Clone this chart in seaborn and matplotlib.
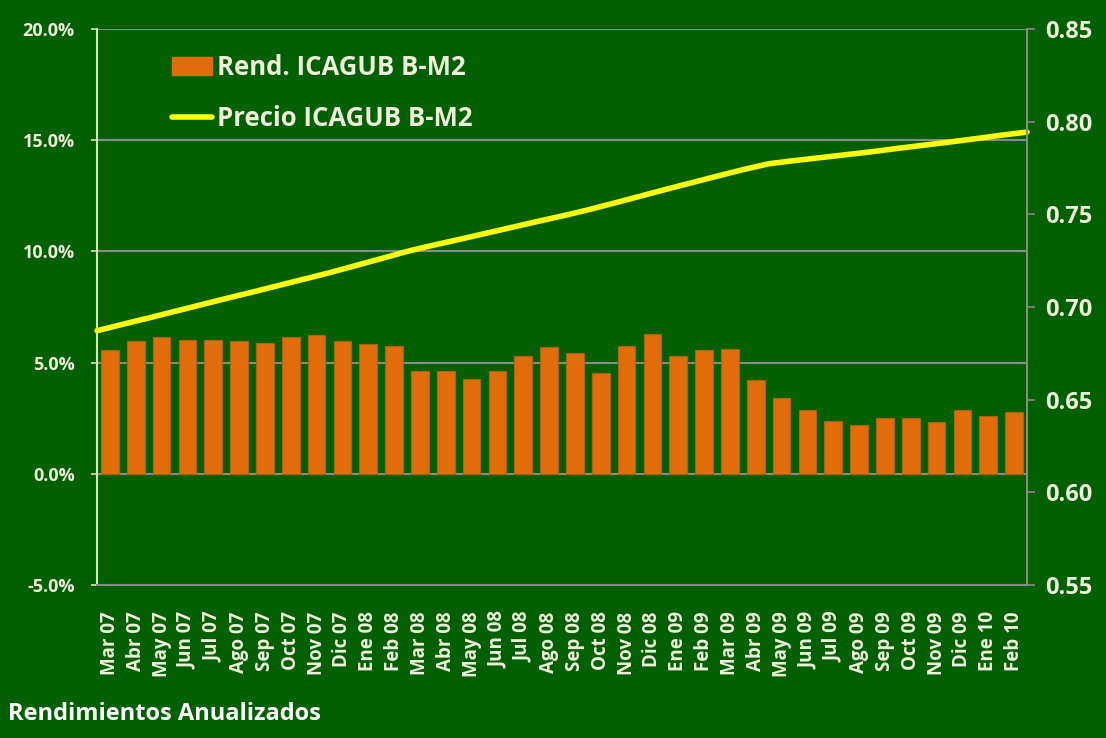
import numpy as np
import pandas as pd
import seaborn as sns
import matplotlib.pyplot as plt
from matplotlib.patches import Patch
from matplotlib.lines import Line2D
from matplotlib.ticker import FuncFormatter

# meses (eje de categorias)
meses = ['Mar 07', 'Abr 07', 'May 07', 'Jun 07', 'Jul 07', 'Ago 07', 'Sep 07', 'Oct 07',
         'Nov 07', 'Dic 07', 'Ene 08', 'Feb 08', 'Mar 08', 'Abr 08', 'May 08', 'Jun 08',
         'Jul 08', 'Ago 08', 'Sep 08', 'Oct 08', 'Nov 08', 'Dic 08', 'Ene 09', 'Feb 09',
         'Mar 09', 'Abr 09', 'May 09', 'Jun 09', 'Jul 09', 'Ago 09', 'Sep 09', 'Oct 09',
         'Nov 09', 'Dic 09', 'Ene 10', 'Feb 10']

# rendimiento anualizado (%)
rendimiento = [5.55, 5.96, 6.17, 6.03, 6.03, 5.96, 5.90, 6.17, 6.24, 5.96, 5.82, 5.76,
               4.61, 4.61, 4.27, 4.61, 5.28, 5.69, 5.42, 4.54, 5.76, 6.30, 5.28, 5.55,
               5.63, 4.21, 3.40, 2.86, 2.38, 2.19, 2.52, 2.52, 2.31, 2.86, 2.59, 2.79]

# precio, leido al cierre de cada mes (37 puntos, de borde a borde)
precio = [0.6872, 0.6907, 0.6941, 0.6976, 0.7011, 0.7046, 0.7080, 0.7115, 0.7150,
          0.7185, 0.7223, 0.7261, 0.7300, 0.7333, 0.7364, 0.7396, 0.7428, 0.7460,
          0.7491, 0.7524, 0.7560, 0.7597, 0.7634, 0.7670, 0.7706, 0.7741, 0.7773,
          0.7790, 0.7806, 0.7822, 0.7838, 0.7856, 0.7873, 0.7890, 0.7908, 0.7927,
          0.7944]

sns.set_style('white')
plt.rcParams['font.family'] = ['Open Sans', 'DejaVu Sans']
plt.rcParams['font.weight'] = 'bold'

fondo = '#006000'
texto = '#EEF0DC'
gris = '#8A8A8A'
naranja = '#E36C0A'
amarillo = '#FFFF00'

fig = plt.figure(figsize=(11.06, 7.38), dpi=100, facecolor=fondo)
ax = fig.add_axes([0.0877, 0.2073, 0.8409, 0.7534])
ax.set_facecolor(fondo)

df = pd.DataFrame({'mes': meses, 'rend': rendimiento})
sns.barplot(data=df, x='mes', y='rend', color=naranja, saturation=1, width=0.68,
            edgecolor='#A8640E', linewidth=0.8, ax=ax)

ax.set_ylim(-5, 20)
ax.set_yticks(np.arange(-5, 25, 5))
ax.yaxis.set_major_formatter(FuncFormatter(lambda v, p: '{:.1f}%'.format(v)))
ax.set_axisbelow(True)
ax.yaxis.grid(True, color=gris, linewidth=1.5)
ax.set_xlabel('')
ax.set_ylabel('')

for s in ['top', 'right']:
    ax.spines[s].set_visible(False)
ax.spines['left'].set_color('#D8E4B0')
ax.spines['left'].set_linewidth(1.5)
ax.spines['bottom'].set_color(gris)
ax.spines['bottom'].set_linewidth(1.5)

ax.tick_params(axis='y', labelcolor=texto, labelsize=13, length=4, width=1.2,
               color='#D8E4B0', pad=12)
ax.tick_params(axis='x', labelcolor=texto, labelsize=13.5, length=0, pad=19,
               labelrotation=90)
plt.setp(ax.get_xticklabels() + ax.get_yticklabels(), fontweight='bold')

# eje secundario: precio
ax2 = ax.twinx()
x_precio = np.arange(len(precio)) - 0.5
sns.lineplot(x=x_precio, y=precio, ax=ax2, color=amarillo, linewidth=4)
ax2.lines[0].set_solid_capstyle('round')
ax2.lines[0].set_clip_on(False)
ax2.set_xlim(-0.5, len(meses) - 0.5)
ax2.set_ylim(0.55, 0.85)
ax2.set_yticks(np.arange(0.55, 0.851, 0.05))
ax2.yaxis.set_major_formatter(FuncFormatter(lambda v, p: '{:.2f}'.format(v)))
ax2.set_ylabel('')
for s in ['top', 'left', 'bottom']:
    ax2.spines[s].set_visible(False)
ax2.spines['right'].set_color(gris)
ax2.spines['right'].set_linewidth(1.5)
ax2.tick_params(axis='y', labelcolor=texto, labelsize=17, length=6, width=1.2,
                color=gris, pad=7)
plt.setp(ax2.get_yticklabels(), fontweight='bold')

handles = [Patch(facecolor=naranja, edgecolor=naranja),
           Line2D([0], [0], color=amarillo, linewidth=4, solid_capstyle='round')]
leg = ax2.legend(handles, ['Rend. ICAGUB B-M2', 'Precio ICAGUB B-M2'],
                 loc='upper left', bbox_to_anchor=(0.0806, 0.955), frameon=False,
                 prop={'size': 18.5, 'weight': 'bold'}, labelcolor=texto,
                 handlelength=1.55, handleheight=0.7, handletextpad=0.2,
                 labelspacing=0.95, borderpad=0, borderaxespad=0)

fig.text(8 / 1106, 1 - 714 / 738, 'Rendimientos Anualizados', ha='left', va='center',
         fontsize=17, fontweight='bold', color='#FFFFFF')

fig.savefig('out.png', dpi=100, facecolor=fondo)
